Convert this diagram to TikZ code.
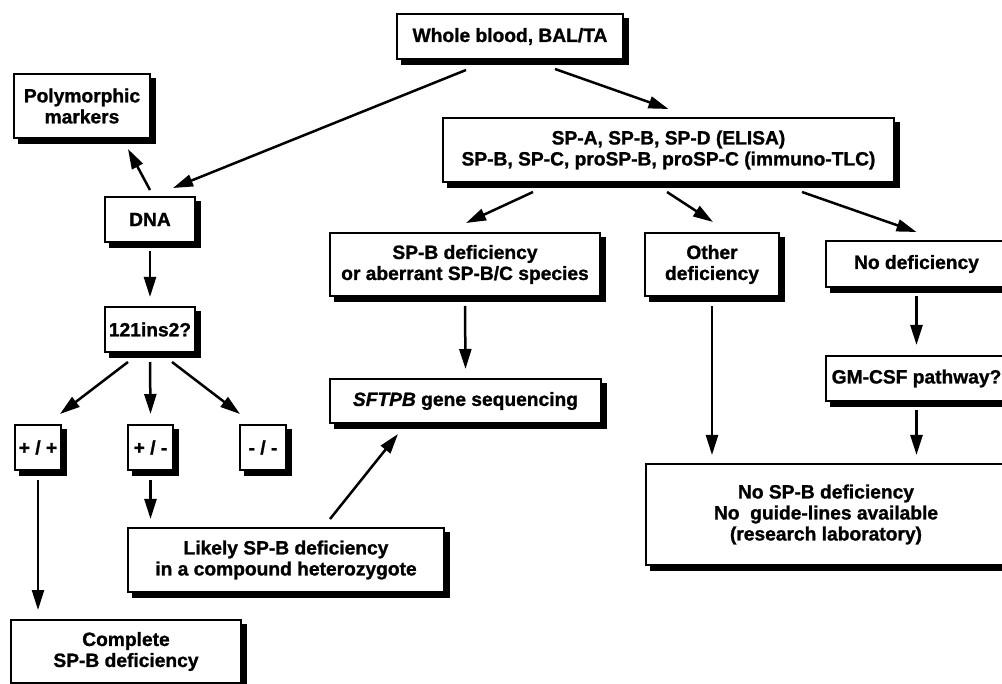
\documentclass[tikz,border=0pt]{standalone}
\usepackage{fontspec}
\setmainfont{Liberation Sans}[BoldFeatures={FakeBold=1.2},BoldItalicFeatures={FakeBold=1.2}]
\usetikzlibrary{arrows.meta,shadows,calc}
\begin{document}
\begin{tikzpicture}[x=1pt,y=-1pt,
  box/.style={draw=black, line width=2pt, fill=white, align=center, inner sep=0pt,
    font=\bfseries\fontsize{19.2}{21}\selectfont,
    general shadow={fill=black, draw=black, shadow xshift=5pt, shadow yshift=-5pt}},
  arr/.style={line width=2.5pt, -{Triangle[length=20pt,width=12pt]}}]
\useasboundingbox (0,0) rectangle (1002,684);
\clip (0,0) rectangle (1002,684);

\node[box, minimum width=226pt, minimum height=45pt] (whole) at (510,36.5) {Whole blood, BAL/TA};
\node[box, minimum width=136pt, minimum height=64pt] (poly) at (82,106) {Polymorphic\\markers};
\node[box, minimum width=90pt, minimum height=45pt] (dna) at (150,219.5) {DNA};
\node[box, minimum width=451pt, minimum height=64pt] (spa) at (668.5,150) {SP-A, SP-B, SP-D (ELISA)\\SP-B, SP-C, proSP-B, proSP-C (immuno-TLC)};
\node[box, minimum width=270pt, minimum height=63pt] (spbdef) at (465,264.5) {SP-B deficiency\\or aberrant SP-B/C species};
\node[box, minimum width=134pt, minimum height=63pt] (other) at (712,264.5) {Other\\deficiency};
\node[box, minimum width=181pt, minimum height=46pt] (nodef) at (916.5,264) {No deficiency};
\node[box, minimum width=90pt, minimum height=45pt] (ins) at (150,329.5) {121ins2?};
\node[box, minimum width=46pt, minimum height=45pt] (pp) at (38,447.5) {+ / +};
\node[box, minimum width=45pt, minimum height=45pt] (pm) at (150.5,447.5) {+ / -};
\node[box, minimum width=46pt, minimum height=45pt] (mm) at (263,447.5) {- / -};
\node[box, minimum width=271pt, minimum height=44pt] (sftpb) at (465.5,401) {{\itshape SFTPB} gene sequencing};
\node[box, minimum width=181pt, minimum height=45pt] (gm) at (916.5,378.5) {GM-CSF pathway?};
\node[box, minimum width=316pt, minimum height=64pt] (likely) at (286,560) {Likely SP-B deficiency\\in a compound heterozygote};
\node[box, minimum width=230pt, minimum height=63pt] (complete) at (126,651.5) {Complete\\SP-B deficiency};
\node[box, minimum width=360pt, minimum height=101pt] (nosp) at (826,514.5) {No SP-B deficiency\\No\ \ guide-lines available\\(research laboratory)};

\draw[arr] ($(whole.south)+(-44,10)$) -- ($(dna.north)+(23,-8)$);
\draw[arr] ($(whole.south)+(45,9)$) -- ($(spa.north)+(0,-8)$);
\draw[arr] ($(dna.north)+(0,-6)$) -- ($(poly.south)+(46,10)$);
\draw[arr] ($(spa.south)+(-135.5,9)$) -- ($(spbdef.north)+(1,-9)$);
\draw[arr] ($(spa.south)+(-1.5,9)$) -- ($(other.north)+(1,-10)$);
\draw[arr] ($(spa.south)+(133.5,9)$) -- ($(nodef.north)+(0,-8)$);
\draw[arr] ($(dna.south)+(0,8)$) -- ($(ins.north)+(0,-9)$);
\draw[arr] ($(ins.south)+(-22,9)$) -- ($(pp.north)+(22,-10)$);
\draw[arr] ($(ins.south)+(0,9)$) -- ($(pm.north)+(0,-10)$);
\draw[arr] ($(ins.south)+(22,9)$) -- ($(mm.north)+(-23,-10)$);
\draw[arr] ($(pp.south)+(0,9)$) -- ($(pp.south |- complete.north)+(0,-9)$);
\draw[arr] ($(pm.south)+(0,9)$) -- ($(pm.south |- likely.north)+(0,-8)$);
\draw[arr] ($(likely.north)+(44,-8)$) -- ($(sftpb.south)+(-67.5,10)$);
\draw[arr] ($(spbdef.south)+(0,9)$) -- ($(sftpb.north)+(0,-9)$);
\draw[arr] ($(other.south)+(0,9)$) -- ($(other.south |- nosp.north)+(0,-8)$);
\draw[arr] ($(nodef.south)+(0,8)$) -- ($(gm.north)+(0,-10)$);
\draw[arr] ($(gm.south)+(0,8)$) -- ($(gm.south |- nosp.north)+(0,-8)$);
\end{tikzpicture}
\end{document}
